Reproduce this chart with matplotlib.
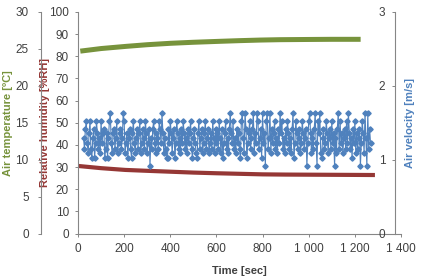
import numpy as np
import matplotlib
matplotlib.use("Agg")
import matplotlib.pyplot as plt

plt.rcParams['font.family'] = ['Liberation Sans', 'DejaVu Sans']

# air temperature [C]
t_temp = [10, 100, 210, 300, 400, 500, 615, 700, 790, 875, 1000, 1100, 1225]
temp = [24.7, 25.05, 25.35, 25.57, 25.76, 25.9, 26.03, 26.12, 26.2, 26.25, 26.28, 26.3, 26.3]

# relative humidity [%RH]
t_rh = [0, 100, 205, 300, 400, 500, 600, 700, 800, 900, 1000, 1100, 1200, 1287]
rh = [30.5, 29.5, 28.7, 28.3, 27.9, 27.5, 27.2, 26.95, 26.7, 26.6, 26.55, 26.5, 26.45, 26.4]

# air velocity [m/s], sampled every 4 s: velocity levels and the level of each sample
vel_levels = [0.92, 1.02, 1.09, 1.15, 1.22, 1.29, 1.36, 1.42, 1.52, 1.63]
vel_codes = ("537842683157148635284671"
             "361589426735824673598246"
             "157316842573682475386247"
             "053784265387496253117486"
             "257148635274863527468315"
             "742168357246835724638527"
             "463852714683527964835274"
             "631895297146835792649835"
             "719460893592746835274968"
             "352748635279148635724863"
             "570489625379408692157348"
             "625738460527938462573849"
             "635174826357048629509374")
t_vel = np.arange(24, 1269, 4)
vel = [vel_levels[int(c)] for c in vel_codes]

x_ticks = [0, 200, 400, 600, 800, 1000, 1200, 1400]
x_labels = ['0', '200', '400', '600', '800', '1 000', '1 200', '1 400']

green = '#77933C'
red = '#953735'
blue = '#4F81BD'
axis_gray = '#868686'
text_gray = '#404040'

fig = plt.figure(figsize=(4.21, 2.78), dpi=100)
ax = fig.add_axes([78/421, 1-233.5/278, 323/421, 221.5/278])   # RH axis
ax_t = ax.twinx()
ax_v = ax.twinx()

# temperature axis, outer left
ax_t.yaxis.set_ticks_position('left')
ax_t.yaxis.set_label_position('left')
ax_t.spines['left'].set_position(('outward', 27))
for s in ['top', 'right', 'bottom']:
    ax_t.spines[s].set_visible(False)
ax_t.spines['left'].set_color(axis_gray)

# velocity axis, right, labels on the inside
for s in ['top', 'left', 'bottom']:
    ax_v.spines[s].set_visible(False)
ax_v.spines['right'].set_position(('axes', 0.98))
ax_v.spines['right'].set_color(axis_gray)

for s in ['top', 'right']:
    ax.spines[s].set_visible(False)
ax.spines['left'].set_color(axis_gray)
ax.spines['bottom'].set_color(axis_gray)

ax.plot(t_rh, rh, color=red, lw=3.0, solid_capstyle='butt')
ax_t.plot(t_temp, temp, color=green, lw=3.6, solid_capstyle='butt')
ax_v.plot(t_vel, vel, color=blue, lw=0.8, marker='D', ms=2.7, mec=blue, mfc=blue)

ax.set_xlim(0, 1400)
ax.set_ylim(0, 100)
ax_t.set_ylim(0, 30)
ax_v.set_ylim(0, 3)

ax.set_xticks(x_ticks)
ax.set_xticklabels(x_labels)
ax.set_yticks(range(0, 101, 10))
ax_t.set_yticks(range(0, 31, 5))
ax_v.set_yticks([0, 1, 2, 3])

ax.tick_params(axis='x', direction='out', length=2.5, width=0.7, color=axis_gray,
               labelsize=8.5, labelcolor=text_gray, pad=4)
ax.tick_params(axis='y', direction='out', length=2.5, width=0.7, color=axis_gray,
               labelsize=8.5, labelcolor=text_gray, pad=4)
ax_t.tick_params(axis='y', direction='out', length=2.5, width=0.7, color=axis_gray,
                 labelsize=8.5, labelcolor=text_gray, pad=6)
ax_v.tick_params(axis='y', direction='in', length=2.5, width=0.7, color=axis_gray,
                 labelsize=8.5, labelcolor=text_gray, pad=-11.5)

ax.set_xlabel('Time [sec]', fontsize=8, fontweight='bold', color=text_gray)
ax.xaxis.set_label_coords(0.50, -0.147)
ax.set_ylabel('Relative humidity [%RH]', fontsize=8, fontweight='bold', color=red)
ax.yaxis.set_label_coords(-0.087, 0.5)
ax_t.set_ylabel('Air temperature [ºC]', fontsize=8, fontweight='bold', color=green)
ax_t.yaxis.set_label_coords(-0.20, 0.5)
ax_v.set_ylabel('Air velocity [m/s]', fontsize=8, fontweight='bold', color=blue)
ax_v.yaxis.set_label_coords(1.013, 0.5)

fig.savefig('out.png', dpi=100)
